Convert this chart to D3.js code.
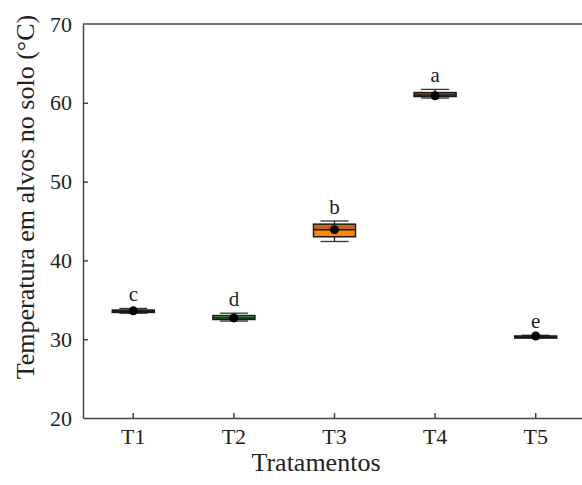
<!DOCTYPE html>
<html>
<head>
<meta charset="utf-8">
<script src="https://cdn.jsdelivr.net/npm/d3@7"></script>
<style>
  body { margin: 0; background: #fff; }
</style>
</head>
<body>
<div id="chart"></div>
<script>
// treatments and box statistics (°C)
const treatments = ['T1', 'T2', 'T3', 'T4', 'T5'];
const whiskerLow = [33.3, 32.3, 42.4, 60.6, 30.2];
const q1 = [33.4, 32.5, 43.0, 60.8, 30.3];
const median = [33.6, 32.7, 43.9, 61.0, 30.35];
const q3 = [33.7, 33.0, 44.6, 61.3, 30.4];
const whiskerHigh = [33.9, 33.3, 45.0, 61.7, 30.5];
const means = [33.6, 32.7, 43.9, 60.9, 30.4];
const letters = ['c', 'd', 'b', 'a', 'e'];
const boxColors = ['#1a1a1a', '#3aae46', '#ff8a00', '#b5561c', '#1a1a1a'];
const yTicks = [20, 30, 40, 50, 60, 70];

const width = 582;
const height = 485;
const margin = { top: 24, right: -4, bottom: 67, left: 83 };
const serif = '"Liberation Serif", "Times New Roman", Times, serif';

const svg = d3.select('#chart')
    .append('svg')
    .attr('width', width)
    .attr('height', height)
    .attr('font-family', serif);

const x = d3.scaleBand()
    .domain(treatments)
    .range([margin.left, width - margin.right]);

const y = d3.scaleLinear()
    .domain([20, 70])
    .range([height - margin.bottom, margin.top]);

const bw = 42;
const axisColor = '#444';

// top frame line
svg.append('line')
    .attr('x1', margin.left).attr('x2', width)
    .attr('y1', margin.top).attr('y2', margin.top)
    .attr('stroke', axisColor).attr('stroke-width', 1.5);

const yAxis = svg.append('g')
    .attr('transform', `translate(${margin.left},0)`)
    .call(d3.axisLeft(y).tickValues(yTicks).tickSize(-5).tickPadding(11).tickSizeOuter(0))
    .attr('font-family', serif);
yAxis.select('.domain').attr('stroke', axisColor).attr('stroke-width', 1.5);
yAxis.selectAll('.tick line').attr('stroke', axisColor).attr('stroke-width', 1.5)
    .attr('display', d => (d === 20 || d === 70) ? 'none' : null);
yAxis.selectAll('.tick text').attr('font-size', 22).attr('fill', '#222');

const xAxis = svg.append('g')
    .attr('transform', `translate(0,${height - margin.bottom})`)
    .call(d3.axisBottom(x).tickSize(-5).tickPadding(10).tickSizeOuter(0))
    .attr('font-family', serif);
xAxis.select('.domain').attr('stroke', axisColor).attr('stroke-width', 1.5);
xAxis.selectAll('.tick line').attr('stroke', axisColor).attr('stroke-width', 1.5);
xAxis.selectAll('.tick text').attr('font-size', 22).attr('fill', '#222');

// axis titles
svg.append('text')
    .attr('transform', 'translate(34,197) rotate(-90)')
    .attr('text-anchor', 'middle')
    .attr('font-size', 26)
    .attr('fill', '#222')
    .text('Temperatura em alvos no solo (°C)');

svg.append('text')
    .attr('x', 316).attr('y', 471)
    .attr('text-anchor', 'middle')
    .attr('font-size', 26)
    .attr('fill', '#222')
    .text('Tratamentos');

// boxes
const groups = svg.selectAll('.box')
    .data(treatments)
    .enter()
    .append('g')
    .attr('class', 'box')
    .attr('transform', d => `translate(${x(d) + x.bandwidth() / 2},0)`);

groups.append('line')
    .attr('y1', (d, i) => y(whiskerLow[i]))
    .attr('y2', (d, i) => y(whiskerHigh[i]))
    .attr('stroke', '#222').attr('stroke-width', 1.3);

groups.selectAll('.cap')
    .data((d, i) => [whiskerLow[i], whiskerHigh[i]])
    .enter()
    .append('line')
    .attr('x1', -bw / 3).attr('x2', bw / 3)
    .attr('y1', v => y(v)).attr('y2', v => y(v))
    .attr('stroke', '#333').attr('stroke-width', 1.3);

groups.append('rect')
    .attr('x', -bw / 2).attr('width', bw)
    .attr('y', (d, i) => y(q3[i]))
    .attr('height', (d, i) => Math.max(y(q1[i]) - y(q3[i]), 2))
    .attr('fill', (d, i) => boxColors[i])
    .attr('stroke', '#1a1a1a').attr('stroke-width', 1.5);

// darker upper half of the T3 box
groups.append('rect')
    .attr('x', -bw / 2 + 1).attr('width', bw - 2)
    .attr('y', (d, i) => y(q3[i]) + 1)
    .attr('height', (d, i) => Math.max(y(median[i]) - y(q3[i]) - 1, 0))
    .attr('fill', (d, i) => i === 2 ? '#c8641e' : 'none');

groups.append('line')
    .attr('x1', -bw / 2).attr('x2', bw / 2)
    .attr('y1', (d, i) => y(median[i])).attr('y2', (d, i) => y(median[i]))
    .attr('stroke', '#1a1a1a').attr('stroke-width', 1.5);

groups.append('circle')
    .attr('cy', (d, i) => y(means[i]))
    .attr('r', 4.5)
    .attr('fill', '#000');

groups.append('text')
    .attr('y', (d, i) => y(whiskerHigh[i]) - 7)
    .attr('text-anchor', 'middle')
    .attr('font-size', 21)
    .attr('fill', '#222')
    .text((d, i) => letters[i]);
</script>
</body>
</html>
